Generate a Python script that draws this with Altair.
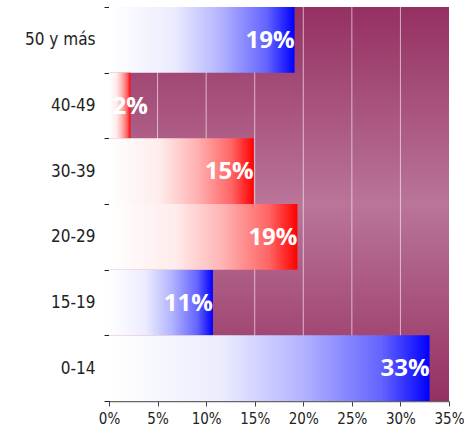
import altair as alt
import pandas as pd

categories = ["50 y más", "40-49", "30-39", "20-29", "15-19", "0-14"]
values = [19.1, 2.2, 14.9, 19.4, 10.7, 33.0]
labels = ["19%", "2%", "15%", "19%", "11%", "33%"]
groups = ["azul", "rojo", "rojo", "rojo", "azul", "azul"]
grid_values = [5, 10, 15, 20, 25, 30]
x_ticks = [0, 5, 10, 15, 20, 25, 30, 35]

df = pd.DataFrame({"cat": categories, "val": values, "lab": labels, "grp": groups})
grid_df = pd.DataFrame({"g": grid_values})
bg_df = pd.DataFrame({"a": [0], "b": [35]})

FONT = "DejaVu Sans Condensed, Liberation Sans Narrow, Liberation Sans, sans-serif"

def grad(end, mid1, mid2, mid3):
    return {
        "gradient": "linear", "x1": 0, "x2": 1, "y1": 0, "y2": 0,
        "stops": [
            {"offset": 0, "color": "#ffffff"},
            {"offset": 0.35, "color": mid1},
            {"offset": 0.6, "color": mid2},
            {"offset": 0.85, "color": mid3},
            {"offset": 1, "color": end},
        ],
    }

blue = grad("#0000ff", "#ececff", "#b4b4ff", "#6464ff")
red = grad("#ff0000", "#ffecec", "#ffb4b4", "#ff6464")
bg = {
    "gradient": "linear", "x1": 0, "x2": 0, "y1": 0, "y2": 1,
    "stops": [
        {"offset": 0, "color": "#953062"},
        {"offset": 0.5, "color": "#ba7599"},
        {"offset": 1, "color": "#953062"},
    ],
}

xs = alt.Scale(domain=[0, 35], nice=False, zero=True)
ys = alt.Scale(domain=categories, paddingInner=0, paddingOuter=0)

background = alt.Chart(bg_df).mark_rect(fill=bg).encode(
    x=alt.X("a:Q", scale=xs, axis=alt.Axis(
        values=x_ticks, labelExpr="datum.value + '%'", title=None, grid=False,
        labelFlush=False, labelOverlap=False,
        domainColor="#666666", domainWidth=1.5, tickColor="#444444", tickSize=5,
        labelFont=FONT, labelFontSize=15, labelColor="#222222", labelPadding=5)),
    x2="b:Q",
)

gridlines = alt.Chart(grid_df).mark_rule(color="#ffffff", opacity=0.6, strokeWidth=1).encode(
    x=alt.X("g:Q", scale=xs)
)

yaxis = alt.Axis(title=None, tickBand="extent", domainColor="#222222", tickColor="#222222",
                 tickSize=5, labelFont=FONT, labelFontSize=17, labelColor="#222222",
                 labelPadding=9)

bars_blue = alt.Chart(df).transform_filter(alt.datum.grp == "azul").mark_bar(fill=blue).encode(
    x=alt.X("val:Q", scale=xs),
    y=alt.Y("cat:N", scale=ys, sort=categories, axis=yaxis),
)
bars_red = alt.Chart(df).transform_filter(alt.datum.grp == "rojo").mark_bar(fill=red).encode(
    x=alt.X("val:Q", scale=xs),
    y=alt.Y("cat:N", scale=ys, sort=categories),
)
text = alt.Chart(df).transform_calculate(pos="max(datum.val, 4.0)").mark_text(
    align="right", baseline="middle", dx=0, dy=1, color="#ffffff",
    font="Open Sans", fontWeight="bold", fontSize=24,
).encode(
    x=alt.X("pos:Q", scale=xs),
    y=alt.Y("cat:N", scale=ys, sort=categories),
    text="lab:N",
)

chart = alt.layer(background, gridlines, bars_blue, bars_red, text).properties(
    width=340, height=394,
    autosize=alt.AutoSizeParams(type="none"),
    padding={"left": 109, "top": 7, "right": 15, "bottom": 36},
    background="#ffffff",
).configure_view(stroke=None)

chart.save("out.html", embed_options={"renderer": "svg", "actions": False})
